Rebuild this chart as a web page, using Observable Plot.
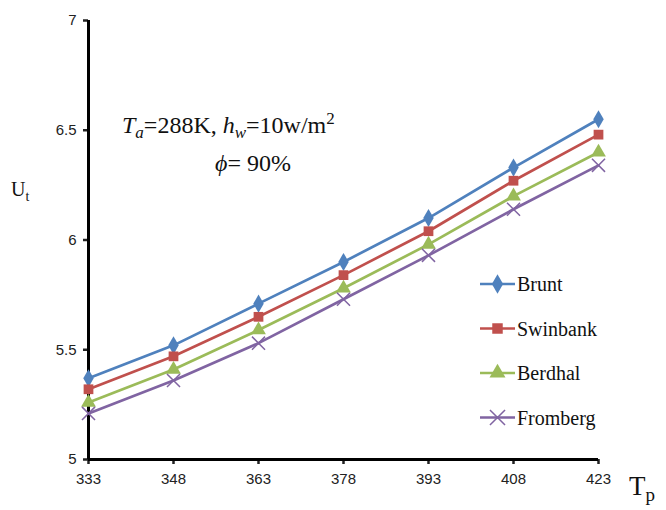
<!DOCTYPE html>
<html>
<head>
<meta charset="utf-8">
<script src="https://cdn.jsdelivr.net/npm/d3@7"></script>
<script src="https://cdn.jsdelivr.net/npm/@observablehq/plot@0.6"></script>
<style>
  html, body { margin: 0; padding: 0; background: #fff; }
  #chart svg { display: block; }
</style>
</head>
<body>
<div id="chart"></div>
<script>
// ---- data ----
const tp = [333, 348, 363, 378, 393, 408, 423];
const seriesNames = ["Brunt", "Swinbank", "Berdhal", "Fromberg"];
const brunt    = [5.37, 5.52, 5.71, 5.90, 6.10, 6.33, 6.55];
const swinbank = [5.32, 5.47, 5.65, 5.84, 6.04, 6.27, 6.48];
const berdhal  = [5.26, 5.41, 5.59, 5.78, 5.98, 6.20, 6.40];
const fromberg = [5.21, 5.36, 5.53, 5.73, 5.93, 6.14, 6.34];
const yTicks = [5, 5.5, 6, 6.5, 7];
const xTicks = tp;

const colors = ["#4F81BD", "#C0504D", "#9BBB59", "#8064A2"];
const symbols = ["diamond", "square", "triangle", "times"];

const seriesValues = [brunt, swinbank, berdhal, fromberg];
const rows = seriesNames.flatMap((s, i) => tp.map((t, j) => ({series: s, tp: t, u: seriesValues[i][j]})));

const sansFont = "'Liberation Sans', Arial, sans-serif";
const serifFont = "'Liberation Serif', 'Times New Roman', serif";

const marks = [
  Plot.axisY({ticks: yTicks, tickFormat: d => String(d), tickSize: 5, tickPadding: 7,
              fontSize: 15, fontFamily: sansFont, color: "#222", label: null, strokeWidth: 2.5}),
  Plot.axisX({ticks: xTicks, tickFormat: d => String(d), tickSize: 5, tickPadding: 9,
              fontSize: 15, fontFamily: sansFont, color: "#222", label: null, strokeWidth: 2.5}),
  Plot.ruleY([5], {stroke: "#000", strokeWidth: 3}),
  Plot.ruleX([333], {stroke: "#000", strokeWidth: 3}),
  Plot.line(rows, {x: "tp", y: "u", z: "series", stroke: "series", strokeWidth: 2.7})
];
seriesNames.forEach((s, i) => {
  const data = rows.filter(r => r.series === s);
  if (symbols[i] === "times") {
    marks.push(Plot.dot(data, {x: "tp", y: "u", symbol: () => symbols[i], stroke: colors[i], strokeWidth: 1.5, r: 6}));
  } else {
    marks.push(Plot.dot(data, {x: "tp", y: "u", symbol: () => symbols[i], fill: colors[i], stroke: "none", r: 5.5}));
  }
});

const chart = Plot.plot({
  width: 666,
  height: 510,
  marginLeft: 88,
  marginRight: 68,
  marginTop: 20,
  marginBottom: 51,
  x: {domain: [333, 423], axis: null},
  y: {domain: [5, 7], axis: null},
  color: {domain: seriesNames, range: colors},
  symbol: {domain: symbols, range: symbols},
  style: {background: "#fff", overflow: "visible"},
  marks
});
document.getElementById("chart").appendChild(chart);

// ---- annotations & legend ----
const svg = d3.select(chart);
const layer = svg.append("g").attr("text-anchor", "start").style("font-family", serifFont);

// y label U_t
const ut = layer.append("text").attr("x", 11).attr("y", 196)
  .attr("font-size", 20).attr("fill", "#111");
ut.append("tspan").text("U");
ut.append("tspan").attr("font-size", 14).attr("dy", 5).text("t");

// x label T_p
const tpl = layer.append("text").attr("x", 629).attr("y", 495)
  .attr("font-size", 27).attr("fill", "#111");
tpl.append("tspan").text("T");
tpl.append("tspan").attr("font-size", 19).attr("dy", 6).text("p");

// condition annotation
const a1 = layer.append("text").attr("x", 122).attr("y", 133)
  .attr("font-size", 24).attr("fill", "#111");
a1.append("tspan").attr("font-style", "italic").text("T");
a1.append("tspan").attr("font-style", "italic").attr("font-size", 17).attr("dy", 5).text("a");
a1.append("tspan").attr("dy", -5).text("=288K, ");
a1.append("tspan").attr("font-style", "italic").text("h");
a1.append("tspan").attr("font-style", "italic").attr("font-size", 17).attr("dy", 5).text("w");
a1.append("tspan").attr("dy", -5).text("=10w/m");
a1.append("tspan").attr("font-size", 17).attr("dy", -9).text("2");

const a2 = layer.append("text").attr("x", 215).attr("y", 171)
  .attr("font-size", 24).attr("fill", "#111");
a2.append("tspan").attr("font-style", "italic").text("\u03D5");
a2.append("tspan").text("= 90%");

// legend
const legendX = 480, legendY0 = 284, legendStep = 44.5;
seriesNames.forEach((s, i) => {
  const g = layer.append("g").attr("transform", `translate(${legendX},${legendY0 + i * legendStep})`);
  g.append("line").attr("x1", 0).attr("x2", 35).attr("y1", 0).attr("y2", 0)
    .attr("stroke", colors[i]).attr("stroke-width", 2.7);
  const symType = {diamond: d3.symbolDiamond, square: d3.symbolSquare, triangle: d3.symbolTriangle, times: d3.symbolTimes}[symbols[i]];
  const p = g.append("path").attr("transform", "translate(17.5,0)")
    .attr("d", d3.symbol(symType, symbols[i] === "times" ? 150 : 110)());
  if (symbols[i] === "times") p.attr("fill", "none").attr("stroke", colors[i]).attr("stroke-width", 1.5);
  else p.attr("fill", colors[i]);
  g.append("text").attr("x", 37).attr("y", 7)
    .attr("font-size", 20).attr("fill", "#111").text(s);
});
</script>
</body>
</html>
